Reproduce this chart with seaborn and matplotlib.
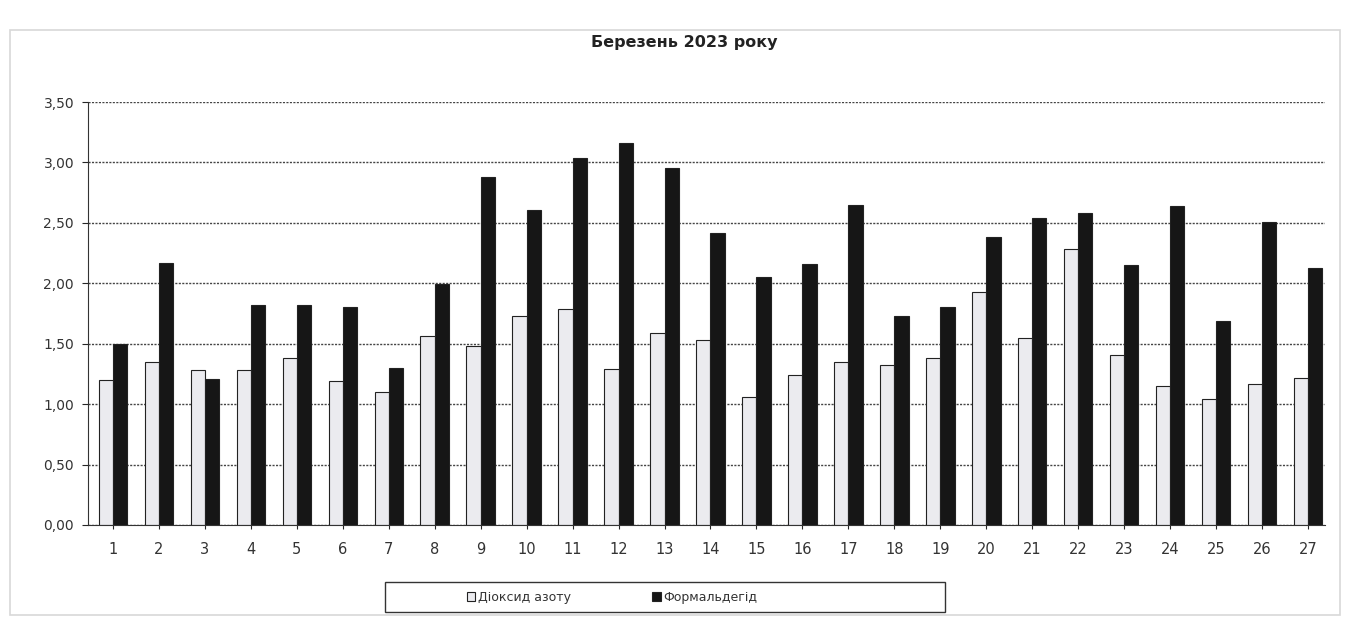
import matplotlib
matplotlib.use("Agg")
import matplotlib.pyplot as plt
from matplotlib.patches import Rectangle
import seaborn as sns
import pandas as pd

# значення з графіка
days = list(range(1, 28))
no2 = [1.20, 1.35, 1.28, 1.28, 1.38, 1.19, 1.10, 1.56, 1.48, 1.73, 1.79, 1.29, 1.59, 1.53,
       1.06, 1.24, 1.35, 1.32, 1.38, 1.93, 1.55, 2.28, 1.41, 1.15, 1.04, 1.17, 1.22]
formald = [1.50, 2.17, 1.21, 1.82, 1.82, 1.80, 1.30, 1.99, 2.88, 2.61, 3.04, 3.16, 2.95, 2.42,
           2.05, 2.16, 2.65, 1.73, 1.80, 2.38, 2.54, 2.58, 2.15, 2.64, 1.69, 2.51, 2.13]
series_names = ["Діоксид азоту", "Формальдегід"]
title = "Березень 2023 року"
yticks = [0, 0.5, 1.0, 1.5, 2.0, 2.5, 3.0, 3.5]

df = pd.DataFrame({
    "day": days * 2,
    "value": no2 + formald,
    "series": [series_names[0]] * len(days) + [series_names[1]] * len(days),
})

sns.set_style("white")
plt.rcParams['font.family'] = ['DejaVu Sans']

W, H = 1346, 625
fig = plt.figure(figsize=(W / 100, H / 100), dpi=100)
ax = fig.add_axes([88 / W, 1 - 525 / H, 1237 / W, 423 / H])

# рамка діаграми
fig.patches.append(Rectangle((10 / W, 10 / H), 1330 / W, 585 / H,
                             transform=fig.transFigure, fill=False,
                             edgecolor="#d8d8d8", linewidth=1.2))
# рамка легенди
fig.patches.append(Rectangle((385 / W, 1 - 612 / H), 560 / W, 30 / H,
                             transform=fig.transFigure, fill=False,
                             edgecolor="#333333", linewidth=1.0))

sns.barplot(data=df, x="day", y="value", hue="series", ax=ax,
            palette=["#ebebef", "#161616"], width=0.62, gap=0,
            edgecolor="#222222", linewidth=0.8, legend=True)

ax.set_ylim(0, 3.5)
ax.set_yticks(yticks)
ax.set_yticklabels([f"{v:.2f}".replace(".", ",") for v in yticks], color="#333333", fontsize=10)
ax.tick_params(axis="x", labelsize=10.5, labelcolor="#333333", length=3, pad=9)
ax.tick_params(axis="y", length=4, pad=6, left=True)
ax.tick_params(axis="x", bottom=True)
ax.set_xlim(-0.544, 26.37)
ax.yaxis.grid(True, linestyle=(0, (1.5, 1)), color="#444444", linewidth=1.0)
ax.set_axisbelow(True)
ax.set_xlabel("")
ax.set_ylabel("")
for s in ["top", "right"]:
    ax.spines[s].set_visible(False)
ax.spines["left"].set_color("#333333")
ax.spines["bottom"].set_color("#333333")

fig.text(0.508, 1 - 43 / H, title, ha="center", va="center",
         fontsize=11.5, fontweight="bold", color="#222222")

handles, labels = ax.get_legend_handles_labels()
leg = fig.legend(handles, labels, loc="center", bbox_to_anchor=(612 / W, 1 - 597 / H), ncol=2,
                 frameon=False, fontsize=9,
                 handlelength=0.7, handleheight=0.7, handletextpad=0.2,
                 columnspacing=6.5, borderpad=0.2)
ax.get_legend().remove()
for t in leg.get_texts():
    t.set_color("#333333")

fig.savefig("out.png", dpi=100)
